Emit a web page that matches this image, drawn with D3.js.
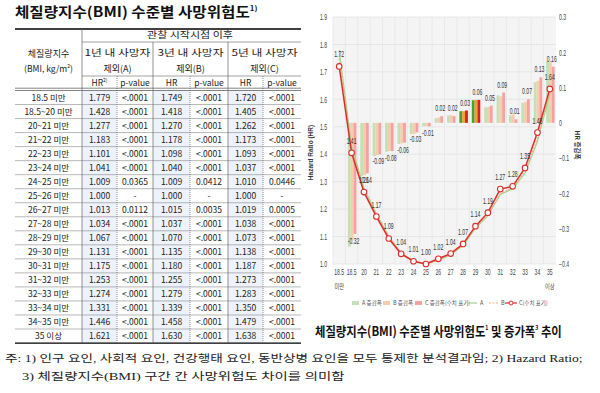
<!DOCTYPE html>
<html>
<head>
<meta charset="utf-8">
<script src="https://cdn.jsdelivr.net/npm/d3@7"></script>
<style>
  body { margin: 0; background: #fff; }
  svg { display: block; }
</style>
</head>
<body>
<svg id="fig" width="600" height="393"></svg>
<script>
// ---- data ----
const bmiRows = ["18.5 미만", "18.5~20 미만", "20~21 미만", "21~22 미만", "22~23 미만", "23~24 미만",
  "24~25 미만", "25~26 미만", "26~27 미만", "27~28 미만", "28~29 미만", "29~30 미만", "30~31 미만",
  "31~32 미만", "32~33 미만", "33~34 미만", "34~35 미만", "35 이상"];
const hrA = [1.779, 1.428, 1.277, 1.183, 1.101, 1.041, 1.009, 1.000, 1.013, 1.034, 1.067, 1.131, 1.175, 1.253, 1.274, 1.331, 1.446, 1.621];
const pA = ["<.0001", "<.0001", "<.0001", "<.0001", "<.0001", "<.0001", "0.0365", "-", "0.0112", "<.0001", "<.0001", "<.0001", "<.0001", "<.0001", "<.0001", "<.0001", "<.0001", "<.0001"];
const hrB = [1.749, 1.418, 1.270, 1.178, 1.098, 1.040, 1.009, 1.000, 1.015, 1.037, 1.070, 1.135, 1.180, 1.255, 1.279, 1.339, 1.458, 1.630];
const pB = ["<.0001", "<.0001", "<.0001", "<.0001", "<.0001", "<.0001", "0.0412", "-", "0.0035", "<.0001", "<.0001", "<.0001", "<.0001", "<.0001", "<.0001", "<.0001", "<.0001", "<.0001"];
const hrC = [1.720, 1.405, 1.262, 1.173, 1.093, 1.037, 1.010, 1.000, 1.019, 1.038, 1.073, 1.138, 1.187, 1.273, 1.283, 1.350, 1.479, 1.638];
const pC = ["<.0001", "<.0001", "<.0001", "<.0001", "<.0001", "<.0001", "0.0446", "-", "0.0005", "<.0001", "<.0001", "<.0001", "<.0001", "<.0001", "<.0001", "<.0001", "<.0001", "<.0001"];

// HR change from the previous BMI band (first band has none)
const incA = [null, -0.351, -0.151, -0.094, -0.082, -0.060, -0.032, -0.009, 0.013, 0.021, 0.033, 0.064, 0.044, 0.078, 0.021, 0.057, 0.115, 0.175];
const incB = [null, -0.331, -0.148, -0.092, -0.080, -0.058, -0.031, -0.009, 0.015, 0.022, 0.033, 0.065, 0.045, 0.075, 0.024, 0.060, 0.119, 0.172];
const incC = [null, -0.315, -0.143, -0.089, -0.080, -0.056, -0.027, -0.010, 0.019, 0.019, 0.035, 0.065, 0.049, 0.086, 0.010, 0.067, 0.129, 0.159];
const incCLabels = [null, "-0.32", "-0.14", "-0.09", "-0.08", "-0.06", "-0.03", "-0.01", "0.02", "0.02", "0.03", "0.06", "0.05", "0.09", "0.01", "0.07", "0.13", "0.16"];
const hrCLabels = ["1.72", "1.41", "1.26", "1.17", "1.09", "1.04", "1.01", "1.00", "1.02", "1.04", "1.07", "1.14", "1.19", "1.27", "1.28", "1.35", "1.48", "1.64"];
const highlighted = ["28~29 미만", "29~30 미만"];

const xTicks = ["18.5", "18.5", "20", "21", "22", "23", "24", "25", "26", "27", "28", "29", "30", "31", "32", "33", "34", "35"];
const xSub = ["미만", "", "", "", "", "", "", "", "", "", "", "", "", "", "", "", "", "이상"];
const hrTicks = [1.0, 1.1, 1.2, 1.3, 1.4, 1.5, 1.6, 1.7, 1.8, 1.9];
const incTicks = [-0.4, -0.3, -0.2, -0.1, 0, 0.1, 0.2, 0.3];

const KR = "'Noto Sans CJK KR', sans-serif";
const NUM = "'Liberation Sans', Arial, sans-serif";
const SERIF = "'Liberation Serif', 'Noto Sans CJK KR', serif";
const NARROW = 0.6;

const svg = d3.select("#fig");

// squeeze/stretch a text element to a given width
function fitWidth(t, w) {
  const bw = t.node().getBBox().width;
  const x = +t.attr("x");
  t.attr("transform", `translate(${x},0) scale(${w / bw},1) translate(${-x},0)`);
}
// fake a condensed face by scaling texts horizontally around their x
function narrow(sel, k) {
  sel.each(function() {
    const t = d3.select(this);
    const x = +t.attr("x") || 0;
    t.attr("transform", `translate(${x},0) scale(${k},1) translate(${-x},0)`);
  });
}

// ---------------- left: title + table ----------------
const title = svg.append("text")
  .attr("x", 15).attr("y", 17)
  .attr("font-family", KR).attr("font-size", 14).attr("font-weight", 700).attr("fill", "#111");
title.append("tspan").text("체질량지수(BMI) 수준별 사망위험도");
title.append("tspan").attr("font-size", 7).attr("dy", -6).text("1)");
fitWidth(title, 243);

const colX = [15, 82, 117, 153, 190, 228, 263, 301];
const tTop = 29, hLine1 = 42, hLine2 = 76, hBot = 90.5, rowH = 14.03;
const rowTop = i => hBot + i * rowH;
const tBot = rowTop(bmiRows.length);

const table = svg.append("g").attr("font-family", KR).attr("fill", "#222");

// HR cells are shaded
[1, 3, 5].forEach(c => {
  table.append("rect")
    .attr("x", colX[c]).attr("y", hBot)
    .attr("width", colX[c + 1] - colX[c]).attr("height", tBot - hBot)
    .attr("fill", "#eef2fa");
});

const hline = (y, x0, x1, w, col) => table.append("line")
  .attr("x1", x0).attr("x2", x1).attr("y1", y).attr("y2", y)
  .attr("stroke", col).attr("stroke-width", w);
const vline = (x, y0, y1, dash) => table.append("line")
  .attr("x1", x).attr("x2", x).attr("y1", y0).attr("y2", y1)
  .attr("stroke", "#666").attr("stroke-width", 0.7)
  .attr("stroke-dasharray", dash ? "1,1" : null);

hline(tTop, 15, 301, 1.6, "#000");
hline(hLine1, 82, 301, 0.6, "#666");
hline(hLine2, 82, 301, 0.6, "#666");
hline(hBot - 2.3, 15, 301, 0.6, "#333");
hline(hBot, 15, 301, 0.6, "#333");
for (let i = 1; i < bmiRows.length; i++) hline(rowTop(i), 15, 301, 0.6, "#888");
hline(tBot, 15, 301, 1.3, "#000");
vline(82, tTop, tBot, false);
vline(153, hLine1, tBot, false);
vline(228, hLine1, tBot, false);
[117, 190, 263].forEach(x => vline(x, hLine2, tBot, true));

const cell = (x, y, txt, size) => table.append("text")
  .attr("x", x).attr("y", y).attr("text-anchor", "middle")
  .attr("font-size", size || 8.5).text(txt);

fitWidth(cell(190, 38.5, "관찰 시작시점 이후", 9), 86);
cell(48.5, 56.5, "체질량지수", 9);
const bmiHdr = table.append("text").attr("x", 48.5).attr("y", 71.5)
  .attr("text-anchor", "middle").attr("font-size", 8.5);
bmiHdr.append("tspan").text("(BMI, kg/m");
bmiHdr.append("tspan").attr("font-size", 5).attr("dy", -4).text("2");
bmiHdr.append("tspan").attr("dy", 4).text(")");

const groups = [["1년 내 사망자", "제외(A)"], ["3년 내 사망자", "제외(B)"], ["5년 내 사망자", "제외(C)"]];
groups.forEach((g, k) => {
  const cx = (colX[1 + 2 * k] + colX[3 + 2 * k]) / 2;
  fitWidth(cell(cx, 56.5, g[0], 9), 67);
  cell(cx, 71.5, g[1], 9);
  const hx = (colX[1 + 2 * k] + colX[2 + 2 * k]) / 2;
  const px = (colX[2 + 2 * k] + colX[3 + 2 * k]) / 2;
  const hr = table.append("text").attr("x", hx).attr("y", 85.5)
    .attr("text-anchor", "middle").attr("font-size", 8.5);
  hr.append("tspan").text("HR");
  if (k === 0) hr.append("tspan").attr("font-size", 5).attr("dy", -4).text("2)");
  cell(px, 85.5, "p-value", 8.5);
});

const fmt3 = d3.format(".3f");
bmiRows.forEach((r, i) => {
  const y = rowTop(i) + rowH / 2 + 3.1;
  cell(48.5, y, r);
  [[hrA, pA], [hrB, pB], [hrC, pC]].forEach(([hr, p], k) => {
    cell((colX[1 + 2 * k] + colX[2 + 2 * k]) / 2, y, fmt3(hr[i]));
    cell((colX[2 + 2 * k] + colX[3 + 2 * k]) / 2, y, p[i]);
  });
});

// ---------------- right: chart ----------------
const plot = { left: 333, right: 556, top: 17, bottom: 264 };

const x = d3.scaleBand().domain(bmiRows).range([plot.left, plot.right]);
const xSubBand = d3.scaleBand().domain(["A", "B", "C"]).range([2.5, 11]);
const yL = d3.scaleLinear().domain([1.0, 1.9]).range([plot.bottom, plot.top]);
const yR = d3.scaleLinear().domain([-0.4, 0.3]).range([plot.bottom, plot.top]);

const chart = svg.append("g");

chart.append("rect")
  .attr("x", plot.left).attr("y", plot.top)
  .attr("width", plot.right - plot.left).attr("height", plot.bottom - plot.top)
  .attr("fill", "#f4f4f4");

chart.selectAll("line.hg").data(hrTicks).enter().append("line")
  .attr("x1", plot.left).attr("x2", plot.right)
  .attr("y1", d => yL(d)).attr("y2", d => yL(d))
  .attr("stroke", "#e2e2e2").attr("stroke-width", 0.8);
chart.selectAll("line.vg").data(bmiRows).enter().append("line")
  .attr("x1", d => x(d)).attr("x2", d => x(d))
  .attr("y1", plot.top).attr("y2", plot.bottom)
  .attr("stroke", "#e6e6e6").attr("stroke-width", 0.8);

// change bars
const pale = { A: "#c5e0b4", B: "#f8cbad", C: "#f2a2a2" };
const strong = { A: "#4a9e32", B: "#f0a030", C: "#d0261e" };
const barData = [];
bmiRows.forEach((r, i) => {
  [["A", incA], ["B", incB], ["C", incC]].forEach(([k, arr]) => {
    if (arr[i] !== null) barData.push({ cat: r, key: k, v: arr[i] });
  });
});
chart.selectAll("rect.bar").data(barData).enter().append("rect")
  .attr("x", d => x(d.cat) + xSubBand(d.key))
  .attr("width", xSubBand.bandwidth())
  .attr("y", d => Math.min(yR(d.v), yR(0)))
  .attr("height", d => Math.abs(yR(d.v) - yR(0)))
  .attr("fill", d => highlighted.includes(d.cat) ? strong[d.key] : pale[d.key]);

const barLabels = chart.selectAll("text.barlab").data(bmiRows.filter((r, i) => incC[i] !== null)).enter().append("text")
  .attr("x", d => x(d) + x.bandwidth() / 2 + 2)
  .attr("y", d => {
    const v = incC[bmiRows.indexOf(d)];
    return v < 0 ? yR(v) + 10 : yR(v) - 5;
  })
  .attr("text-anchor", "middle")
  .attr("font-family", NUM).attr("font-size", 8.5).attr("fill", "#333")
  .text(d => incCLabels[bmiRows.indexOf(d)]);
narrow(barLabels, NARROW);

// HR lines
const lineOf = arr => d3.line()
  .x((d, i) => x(bmiRows[i]) + x.bandwidth() / 2)
  .y(d => yL(d))(arr);

chart.append("path").attr("d", lineOf(hrA))
  .attr("fill", "none").attr("stroke", "#a9d18e").attr("stroke-width", 1.2);
chart.append("path").attr("d", lineOf(hrB))
  .attr("fill", "none").attr("stroke", "#f4b183").attr("stroke-width", 1.2)
  .attr("stroke-dasharray", "2,1.5");
chart.append("path").attr("d", lineOf(hrC))
  .attr("fill", "none").attr("stroke", "#d9302b").attr("stroke-width", 1.5);
chart.selectAll("circle.pt").data(hrC).enter().append("circle")
  .attr("cx", (d, i) => x(bmiRows[i]) + x.bandwidth() / 2)
  .attr("cy", d => yL(d))
  .attr("r", 2.8)
  .attr("fill", "#fff").attr("stroke", "#d9302b").attr("stroke-width", 1.1);
const ptLabels = chart.selectAll("text.ptlab").data(hrC).enter().append("text")
  .attr("x", (d, i) => x(bmiRows[i]) + x.bandwidth() / 2)
  .attr("y", d => yL(d) - 9)
  .attr("text-anchor", "middle")
  .attr("font-family", NUM).attr("font-size", 8.5).attr("fill", "#333")
  .text((d, i) => hrCLabels[i]);
narrow(ptLabels, NARROW);

// axes (labels only, like the original)
const axL = chart.append("g").attr("transform", `translate(${plot.left - 6},0)`)
  .call(d3.axisLeft(yL).tickValues(hrTicks).tickFormat(d3.format(".1f")).tickSize(0).tickPadding(0));
const axR = chart.append("g").attr("transform", `translate(${plot.right + 3},0)`)
  .call(d3.axisRight(yR).tickValues(incTicks).tickFormat(d => d === 0 ? "0" : d3.format(".1f")(d)).tickSize(0).tickPadding(0));
const axB = chart.append("g").attr("transform", `translate(0,${plot.bottom})`)
  .call(d3.axisBottom(x).tickFormat((d, i) => xTicks[i]).tickSize(0).tickPadding(5));
[axL, axR, axB].forEach(a => {
  a.select(".domain").remove();
  a.selectAll("text").attr("font-family", NUM).attr("font-size", 8.5).attr("fill", "#444")
    .attr("transform", `scale(${NARROW},1)`);
});
axB.selectAll(".tick").append("text")
  .attr("y", 25).attr("fill", "#444")
  .attr("font-family", KR).attr("font-size", 6.5)
  .attr("transform", "scale(0.8,1)")
  .text((d, i) => xSub[i]);

chart.append("text")
  .attr("transform", `translate(313,${(plot.top + plot.bottom) / 2 + 12}) rotate(-90)`)
  .attr("text-anchor", "middle")
  .attr("font-family", "'Liberation Sans', Arial, sans-serif").attr("font-size", 6.5).attr("font-weight", 700)
  .attr("fill", "#333").text("Hazard Ratio (HR)");
chart.append("text")
  .attr("transform", `translate(575,145) rotate(90)`)
  .attr("text-anchor", "middle")
  .attr("font-family", KR).attr("font-size", 6.5).attr("font-weight", 700)
  .attr("fill", "#333").text("HR 증감폭");

// legend
const legend = chart.append("g").attr("font-family", KR).attr("font-size", 5.5).attr("fill", "#555");
const legY = 303;
const swatches = [
  { x: 352, c: pale.A, t: "A 증감폭" },
  { x: 383, c: pale.B, t: "B 증감폭" },
  { x: 415, c: pale.C, t: "C 증감폭(수치 표기)" }
];
swatches.forEach(s => {
  legend.append("rect").attr("x", s.x).attr("y", legY - 2).attr("width", 7).attr("height", 4).attr("fill", s.c);
  legend.append("text").attr("x", s.x + 10).attr("y", legY + 2).text(s.t);
});
legend.append("line").attr("x1", 467).attr("x2", 477).attr("y1", legY).attr("y2", legY)
  .attr("stroke", "#a9d18e").attr("stroke-width", 1.2);
legend.append("text").attr("x", 480).attr("y", legY + 2).text("A");
legend.append("line").attr("x1", 489).attr("x2", 498).attr("y1", legY).attr("y2", legY)
  .attr("stroke", "#f4b183").attr("stroke-width", 1.2).attr("stroke-dasharray", "2,1.5");
legend.append("text").attr("x", 501).attr("y", legY + 2).text("B");
legend.append("line").attr("x1", 505).attr("x2", 517).attr("y1", legY).attr("y2", legY)
  .attr("stroke", "#d9302b").attr("stroke-width", 1.2);
legend.append("circle").attr("cx", 511).attr("cy", legY).attr("r", 2)
  .attr("fill", "#fff").attr("stroke", "#d9302b").attr("stroke-width", 1);
legend.append("text").attr("x", 519).attr("y", legY + 2).text("C(수치 표기)");

// chart caption
const cap = svg.append("text")
  .attr("x", 315).attr("y", 336)
  .attr("font-family", KR).attr("font-size", 13).attr("font-weight", 700).attr("fill", "#111");
cap.append("tspan").text("체질량지수(BMI) 수준별 사망위험도");
cap.append("tspan").attr("font-size", 6).attr("dy", -6).text("1");
cap.append("tspan").attr("dy", 6).text(" 및 증가폭");
cap.append("tspan").attr("font-size", 6).attr("dy", -6).text("3");
cap.append("tspan").attr("dy", 6).text(" 추이");
fitWidth(cap, 247);

// footnote
const note1 = svg.append("text").attr("x", 5).attr("y", 362)
  .attr("font-family", SERIF).attr("font-size", 10.5).attr("fill", "#222")
  .text("주: 1) 인구 요인, 사회적 요인, 건강행태 요인, 동반상병 요인을 모두 통제한 분석결과임; 2) Hazard Ratio;");
fitWidth(note1, 578);
const note2 = svg.append("text").attr("x", 22).attr("y", 380)
  .attr("font-family", SERIF).attr("font-size", 10.5).attr("fill", "#222")
  .text("3) 체질량지수(BMI) 구간 간 사망위험도 차이를 의미함");
fitWidth(note2, 323);
</script>
</body>
</html>
